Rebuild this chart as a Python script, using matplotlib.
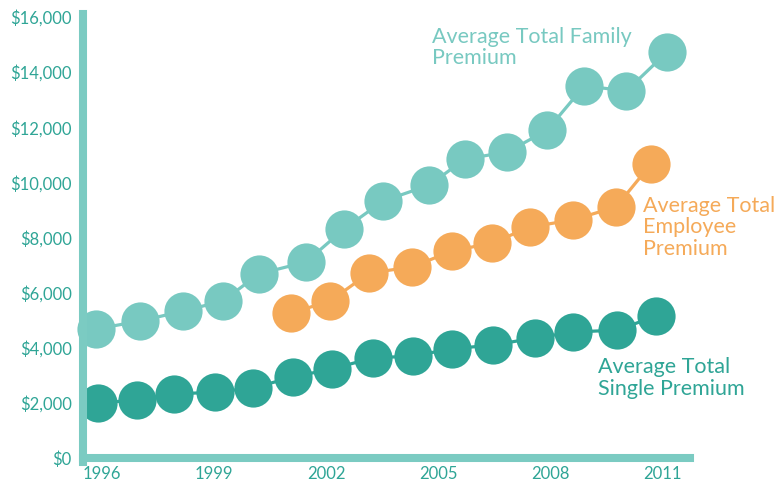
# Health premiums chart --------------------------------------------------

# Libraries
import matplotlib
matplotlib.use("Agg")
import matplotlib.pyplot as plt


# Data ------------------------------------------------------------------
family_years = [1995.84, 1997.02, 1998.17, 1999.24, 2000.20, 2001.46,
                2002.48, 2003.52, 2004.76, 2005.72, 2006.85, 2007.92,
                2008.91, 2010.04, 2011.13]
family_values = [4680, 4970, 5330, 5700, 6680, 7110, 8310, 9320, 9900,
                 10850, 11100, 11900, 13500, 13320, 14730]

employee_years = [2001.07, 2002.11, 2003.15, 2004.30, 2005.37, 2006.44,
                  2007.46, 2008.61, 2009.76, 2010.70]
employee_values = [5260, 5700, 6710, 6930, 7510, 7800, 8380, 8640, 9110,
                   10670]

single_years = [1995.89, 1996.93, 1997.93, 1999.02, 2000.04, 2001.11,
                2002.15, 2003.25, 2004.32, 2005.37, 2006.46, 2007.59,
                2008.61, 2009.79, 2010.83]
single_values = [2000, 2100, 2320, 2390, 2540, 2940, 3230, 3630, 3700,
                 3960, 4100, 4350, 4570, 4640, 5150]

year_ticks = [1996, 1999, 2002, 2005, 2008, 2011]
value_ticks = [0, 2000, 4000, 6000, 8000, 10000, 12000, 14000, 16000]

family_label = "Average Total Family\nPremium"
employee_label = "Average Total\nEmployee\nPremium"
single_label = "Average Total\nSingle Premium"


# Colors
c_family = "#78C9C1"
c_employee = "#F5AA59"
c_single = "#2FA596"
c_axis = "#7BCBC2"


# RC Params
plt.rcParams["font.family"] = ["Lato", "DejaVu Sans"]
plt.rcParams["xtick.major.size"] = 0
plt.rcParams["ytick.major.size"] = 0


# Plot
fig = plt.figure(figsize=[7.76, 4.84], dpi=100)
ax = fig.add_axes([83 / 776, (484 - 458) / 484,
                   (690 - 83) / 776, (458 - 14) / 484])

ax.set_xlim(1995.49, 2011.74)
ax.set_ylim(0, 16109)

series = [(family_years, family_values, c_family),
          (employee_years, employee_values, c_employee),
          (single_years, single_values, c_single)]

for xs, ys, color in series:
    ax.plot(xs, ys, color=color, lw=2.3, marker="o", markersize=27.5,
            markeredgewidth=0, clip_on=False, zorder=2)

# Axis lines
for side in ["top", "right"]:
    ax.spines[side].set_visible(False)

for side in ["left", "bottom"]:
    ax.spines[side].set_color(c_axis)
    ax.spines[side].set_linewidth(5.8)
    ax.spines[side].set_zorder(3)

ax.spines["left"].set_bounds(-150, 16109)

# Ticks
ax.set_xticks(year_ticks)
ax.set_xticklabels([str(y) for y in year_ticks], fontsize=12,
                   color=c_single)
ax.set_yticks(value_ticks)
ax.set_yticklabels([f"${v:,}" for v in value_ticks], fontsize=12,
                   color=c_single)
ax.tick_params(axis="x", pad=6)
ax.tick_params(axis="y", pad=8)

# Series labels
ax.text(2004.84, 15650, family_label, color=c_family, fontsize=15.5,
        ha="left", va="top", linespacing=1.1)
ax.text(2010.49, 9520, employee_label, color=c_employee, fontsize=15.5,
        ha="left", va="top", linespacing=1.1, clip_on=False)
ax.text(2009.28, 3650, single_label, color=c_single, fontsize=15.5,
        ha="left", va="top", linespacing=1.1, clip_on=False)


# Printing
fig.savefig("out.png", dpi=100)
plt.close(fig)
